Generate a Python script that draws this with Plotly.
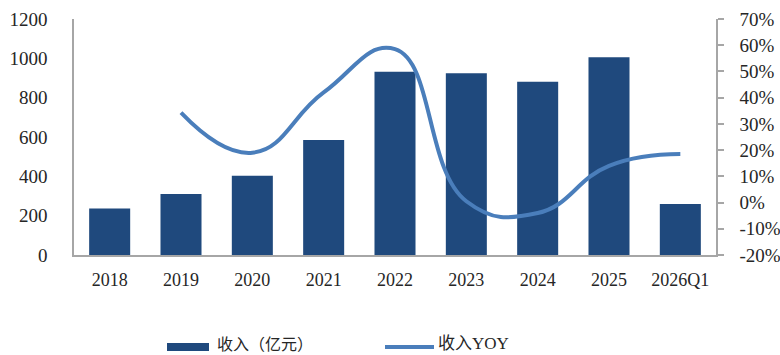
import plotly.graph_objects as go

# Revenue (100M CNY) and year-over-year growth
categories = ["2018", "2019", "2020", "2021", "2022", "2023", "2024", "2025", "2026Q1"]
revenue = [237, 310, 403, 585, 932, 924, 881, 1005, 259]
yoy_years = ["2019", "2020", "2021", "2022", "2023", "2024", "2025", "2026Q1"]
yoy = [0.343, 0.19, 0.42, 0.585, 0.005, -0.04, 0.14, 0.185]

left_ticks = [0, 200, 400, 600, 800, 1000, 1200]
right_ticks = [-0.2, -0.1, 0.0, 0.1, 0.2, 0.3, 0.4, 0.5, 0.6, 0.7]
right_tick_text = ["-20%", "-10%", "0%", "10%", "20%", "30%", "40%", "50%", "60%", "70%"]

legend_bar = "收入（亿元）"
legend_line = "收入YOY"

BAR_COLOR = "#1F497D"
LINE_COLOR = "#4A7EBB"
TEXT_COLOR = "#262626"
AXIS_COLOR = "#A6A6A6"
FONT = "Liberation Serif, Times New Roman, Noto Sans CJK SC, serif"

fig = go.Figure()
fig.add_trace(go.Bar(
    x=categories, y=revenue, name=legend_bar,
    marker=dict(color=BAR_COLOR, line=dict(width=0)),
    showlegend=False,
))
fig.add_trace(go.Scatter(
    x=yoy_years, y=yoy, name=legend_line, yaxis="y2",
    mode="lines", line=dict(color=LINE_COLOR, width=4, shape="spline", smoothing=1.3),
    showlegend=False,
))

fig.update_layout(
    width=780, height=355,
    margin=dict(l=74, r=64, t=19, b=100, autoexpand=False),
    paper_bgcolor="white", plot_bgcolor="white",
    font=dict(family=FONT, size=19, color=TEXT_COLOR),
    bargap=0.425,
    xaxis=dict(
        type="category", showgrid=False, showline=True, linecolor=AXIS_COLOR, linewidth=1.5,
        ticks="", ticklabelstandoff=8, tickfont=dict(size=18), automargin=False,
    ),
    yaxis=dict(
        range=[0, 1200], tickvals=left_ticks, showgrid=False, zeroline=False,
        showline=True, linecolor=AXIS_COLOR, linewidth=1.5, ticks="",
        ticklabelstandoff=21, tickfont=dict(size=19), automargin=False,
    ),
    yaxis2=dict(
        overlaying="y", side="right", range=[-0.2, 0.7],
        tickvals=right_ticks, ticktext=right_tick_text, showgrid=False, zeroline=False,
        showline=True, linecolor=AXIS_COLOR, linewidth=1.5,
        ticks="outside", ticklen=6, tickcolor=AXIS_COLOR, tickwidth=1.5,
        ticklabelstandoff=12, tickfont=dict(size=19), automargin=False,
    ),
)

# Legend drawn below the plot area
LEG_Y = 347
TXT_Y = 343
fig.add_shape(type="rect", xref="paper", yref="paper",
              x0=(167 - 74) / 642, x1=(209 - 74) / 642,
              y0=-(LEG_Y - 255 + 4) / 236, y1=-(LEG_Y - 255 - 4) / 236,
              fillcolor=BAR_COLOR, line=dict(width=0))
fig.add_annotation(text=legend_bar, xref="paper", yref="paper",
                   x=(215 - 74) / 642, y=-(TXT_Y - 255) / 236,
                   xanchor="left", yanchor="middle", showarrow=False,
                   font=dict(size=16, family="Noto Sans CJK SC, sans-serif", color=TEXT_COLOR))
fig.add_shape(type="line", xref="paper", yref="paper",
              x0=(385 - 74) / 642, x1=(434 - 74) / 642,
              y0=-(LEG_Y - 255) / 236, y1=-(LEG_Y - 255) / 236,
              line=dict(color=LINE_COLOR, width=4))
fig.add_annotation(text=legend_line, xref="paper", yref="paper",
                   x=(436 - 74) / 642, y=-(TXT_Y - 255) / 236,
                   xanchor="left", yanchor="middle", showarrow=False,
                   font=dict(size=17, family=FONT, color=TEXT_COLOR))

fig.write_html("out.html")
